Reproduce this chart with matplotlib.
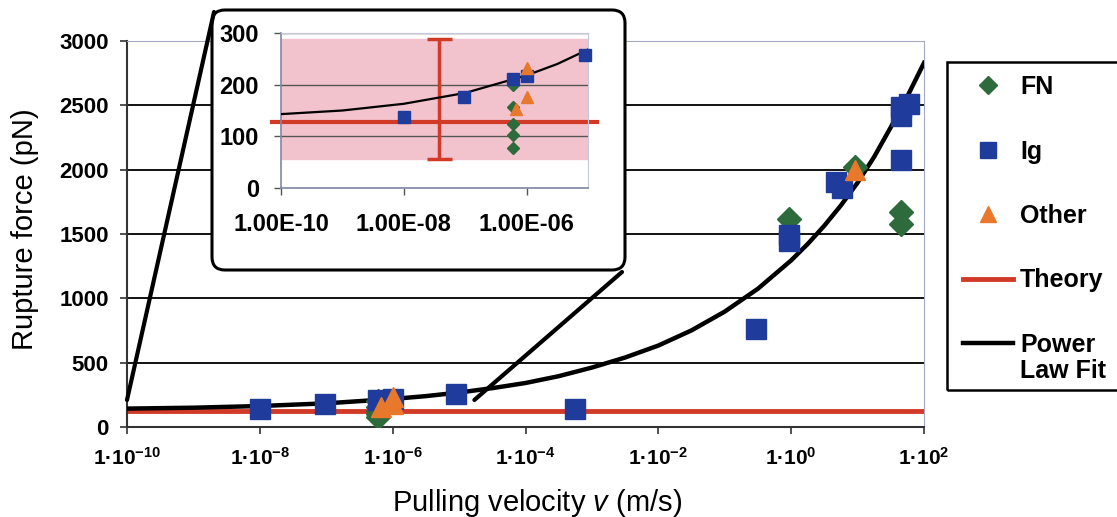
import numpy as np
import matplotlib
matplotlib.use("Agg")
import matplotlib.pyplot as plt
from matplotlib.patches import FancyBboxPatch, Rectangle, ConnectionPatch
from matplotlib.transforms import IdentityTransform

plt.rcParams["font.family"] = ["Liberation Sans", "DejaVu Sans"]
plt.rcParams["mathtext.fontset"] = "custom"
plt.rcParams["mathtext.rm"] = "Liberation Sans"
plt.rcParams["mathtext.it"] = "Liberation Sans:italic"
plt.rcParams["mathtext.bf"] = "Liberation Sans:bold"

# rupture force (pN) vs pulling velocity (m/s)
fn_v = [6e-7, 6e-7, 6e-7, 6e-7, 6e-7, 0.93, 9.3, 45, 45]
fn_f = [77, 103, 124, 157, 200, 1617, 2020, 1669, 1578]

ig_v = [1e-8, 9.5e-8, 6e-7, 1e-6, 9e-6, 5.6e-4, 0.30, 0.93, 0.93, 4.8, 5.9, 45, 60, 45, 45]
ig_f = [138, 176, 210, 216, 258, 138, 760, 1443, 1492, 1908, 1858, 2487, 2508, 2417, 2077]

other_v = [6.6e-7, 1e-6, 1e-6, 9.3]
other_f = [153, 176, 232, 1994]

theory_v = [1e-10, 1e2]
theory_f = [127, 127]

# power law fit, sampled along log10(v)
fit_logv = [-10, -9, -8, -7, -6, -5.5, -5, -4.5, -4, -3.5, -3, -2.5, -2, -1.5, -1, -0.5,
            0, 0.25, 0.5, 0.75, 1, 1.25, 1.5, 1.75, 2]
fit_f = [143, 150, 163, 184, 218, 240, 268, 302, 342, 395, 462, 540, 633, 751, 897, 1075,
         1295, 1423, 1565, 1723, 1899, 2100, 2330, 2570, 2830]

# spread of the measurements shown in the inset
spread_v = 3.7e-8
spread_mean = 173
spread_sd = 116

x_exps = [-10, -8, -6, -4, -2, 0, 2]
y_ticks = [0, 500, 1000, 1500, 2000, 2500, 3000]
inset_x_exps = [-10, -8, -6]
inset_y_ticks = [0, 100, 200, 300]

c_fn = "#2e6b3c"
c_ig = "#1f3c9c"
c_other = "#e8782c"
c_theory = "#d23a28"
c_band = "#f2c3cc"

W, H = 1117, 517
fig = plt.figure(figsize=(W / 100, H / 100), dpi=100)
fig.patch.set_facecolor("white")

ax = fig.add_axes([127 / W, 1 - 427 / H, 797 / W, 386 / H])
fit_v = np.power(10.0, fit_logv)

h_th, = ax.plot(theory_v, theory_f, color=c_theory, lw=3.5, zorder=2)
h_fit, = ax.plot(fit_v, fit_f, color="black", lw=3.2, zorder=3)
h_fn, = ax.plot(fn_v, fn_f, "D", color=c_fn, ms=12, ls="none", zorder=4)
h_ig, = ax.plot(ig_v, ig_f, "s", color=c_ig, ms=15, ls="none", zorder=5)
h_ot, = ax.plot(other_v, other_f, "^", color=c_other, ms=15, ls="none", zorder=6)

ax.set_xscale("log")
ax.set_xlim(1e-10, 1e2)
ax.set_ylim(0, 3000)
ax.set_xticks([10.0 ** e for e in x_exps],
              labels=["1\u00b710$^{\\mathbf{%d}}$" % e for e in x_exps],
              fontsize=15, fontweight="bold")
ax.minorticks_off()
ax.set_yticks(y_ticks, labels=[str(t) for t in y_ticks], fontsize=16, fontweight="bold")
ax.tick_params(axis="x", direction="out", length=5, width=1.2, color="#333", pad=9)
ax.tick_params(axis="y", direction="out", length=5, width=1.2, color="#333", pad=8)
ax.yaxis.grid(True, color="#111", lw=1.4)
ax.set_axisbelow(True)
for side in ("top", "right"):
    ax.spines[side].set_color("#a4a8c0")
    ax.spines[side].set_linewidth(0.8)
for side in ("left", "bottom"):
    ax.spines[side].set_color("#333")
    ax.spines[side].set_linewidth(1.5)

ax.set_ylabel("Rupture force (pN)", fontsize=21)
ax.yaxis.set_label_coords(-0.111, 0.513)
ax.set_xlabel("Pulling velocity $\\it{v}$ (m/s)", fontsize=21)
ax.xaxis.set_label_coords(0.514, -0.155)

# inset frame and the two lines tying it to the low-velocity data
px = IdentityTransform()
box = FancyBboxPatch((212, H - 270), 413, 260, boxstyle="round,pad=0,rounding_size=13",
                     transform=px, facecolor="white", edgecolor="black", lw=2.2, zorder=2)
fig.patches.append(box)

for xy_data, xy_fig in [((1e-10, 210), (214, H - 12)), ((1.7e-5, 210), (622, H - 272))]:
    con = ConnectionPatch(xyA=xy_data, coordsA=ax.transData, xyB=xy_fig, coordsB="figure pixels",
                          color="black", lw=3, zorder=2.5)
    fig.add_artist(con)

ax_in = fig.add_axes([281 / W, 1 - 188 / H, 307 / W, 155 / H], zorder=3)
ax_in.set_facecolor("white")
ax_in.axhspan(spread_mean - spread_sd, spread_mean + spread_sd, color=c_band, zorder=0.5)
ax_in.axhline(theory_f[0], xmin=-0.03, xmax=1.03, color=c_theory, lw=3, clip_on=False, zorder=2)
ax_in.errorbar([spread_v], [spread_mean], yerr=[spread_sd], color=c_theory, lw=2.5,
               capsize=9, capthick=2.5, zorder=3)
ax_in.plot(fit_v, fit_f, color="black", lw=1.6, zorder=3)

vmax_in = 1e-5
for xs, ys, mk, col, ms, z in [(fn_v, fn_f, "D", c_fn, 6, 4), (ig_v, ig_f, "s", c_ig, 9, 5),
                               (other_v, other_f, "^", c_other, 9, 6)]:
    xs = np.asarray(xs)
    ys = np.asarray(ys)
    keep = xs <= vmax_in
    ax_in.plot(xs[keep], ys[keep], mk, color=col, ms=ms, ls="none", zorder=z, clip_on=False)

ax_in.set_xscale("log")
ax_in.set_xlim(1e-10, vmax_in)
ax_in.set_ylim(0, 300)
ax_in.set_xticks([10.0 ** e for e in inset_x_exps],
                 labels=["1.00E-%02d" % (-e) for e in inset_x_exps], fontsize=17, fontweight="bold")
ax_in.minorticks_off()
ax_in.set_yticks(inset_y_ticks, labels=[str(t) for t in inset_y_ticks], fontsize=17, fontweight="bold")
ax_in.tick_params(axis="x", direction="out", length=5, width=1, color="#555", pad=13)
ax_in.tick_params(axis="y", direction="out", length=5, width=1, color="#555", pad=11)
ax_in.yaxis.grid(True, color="#555", lw=1)
for side in ("top", "right"):
    ax_in.spines[side].set_color("#c4c8dc")
    ax_in.spines[side].set_linewidth(0.8)
for side in ("left", "bottom"):
    ax_in.spines[side].set_color("#8088a8")
    ax_in.spines[side].set_linewidth(1.2)

# legend, its frame runs off the right edge
leg_font = {"size": 18, "weight": "bold"}
leg = fig.legend([h_fn, h_ig, h_ot, h_th, h_fit], ["FN", "Ig", "Other", "Theory", "Power"],
                 loc="upper left", bbox_to_anchor=(963 / W, 1 - 75 / H), frameon=False,
                 prop=leg_font, numpoints=1, handlelength=2.0, handletextpad=0.28,
                 labelspacing=1.62, borderpad=0, borderaxespad=0, markerscale=0.8)
fig.patches.append(Rectangle((947, H - 390), 200, 328, transform=px, fill=False,
                             edgecolor="black", lw=1.8))
fig.canvas.draw()
bb = leg.get_texts()[-1].get_window_extent()
fig.text(bb.x0, (bb.y0 + bb.y1) / 2 - 26, "Law Fit", transform=px, ha="left", va="center",
         fontsize=18, fontweight="bold")

fig.savefig("out.png", dpi=100)
